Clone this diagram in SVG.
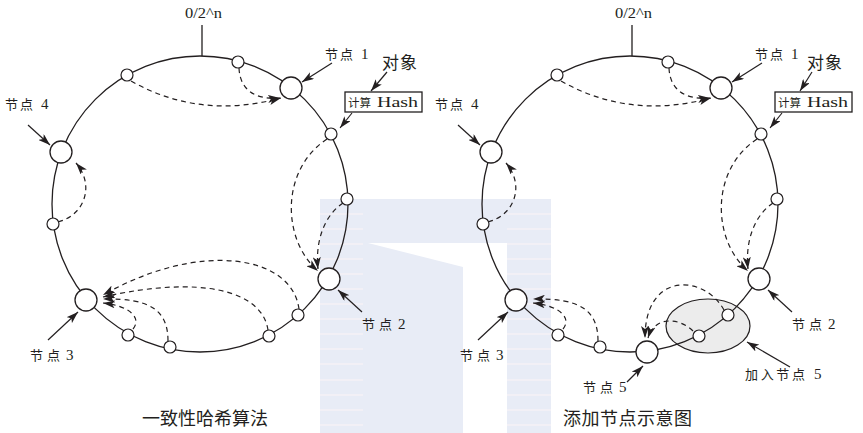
<svg xmlns="http://www.w3.org/2000/svg" width="863" height="433" viewBox="0 0 863 433">
<style>
.ring{fill:none;stroke:#231f20;stroke-width:1.3}
.tick{stroke:#231f20;stroke-width:1.3}
.sn{fill:#fff;stroke:#231f20;stroke-width:1.2}
.bn{fill:#fff;stroke:#231f20;stroke-width:1.3}
.dash{fill:none;stroke:#231f20;stroke-width:1.2;stroke-dasharray:5 4;marker-end:url(#ah)}
.ann{fill:none;stroke:#231f20;stroke-width:1.2;marker-end:url(#ah)}
.t{font-family:"Noto Sans CJK SC","Liberation Serif",sans-serif;font-size:13px;fill:#231f20}
.l{font-family:"Liberation Serif",serif;font-size:15px;fill:#231f20}
.sm{font-size:11.5px}
.big{font-size:17px}
.cap{font-size:18px}
.box{fill:#fff;stroke:#231f20;stroke-width:1.3}
.grp{fill:#ececec;stroke:#231f20;stroke-width:1.2}
.stripe{stroke:#f5f1f6;stroke-width:1.5}
</style>
<defs>
<marker id="ah" viewBox="0 0 12 8" refX="12" refY="4" markerWidth="12" markerHeight="8" markerUnits="userSpaceOnUse" orient="auto">
<path d="M0,0 L12,4 L0,8 L3,4 z" fill="#231f20"/>
</marker>
</defs>
<rect width="863" height="433" fill="#fff"/>
<g id="watermark">
<rect x="320" y="199" width="231" height="234" fill="#e8ecf6"/>
<polygon points="368,243 507,243 507,433 463,433 463,267" fill="#fff"/>
<path class="stripe" d="M320,214H363M320,229H363M320,244H363M320,259H363M320,274H363M320,289H363M320,304H363M320,319H363M320,334H363M320,349H363M320,364H363M320,380H363M320,395H363M320,410H363M320,425H363 M507,214H551M507,229H551M507,244H551M507,259H551M507,274H551M507,289H551M507,304H551M507,319H551M507,334H551M507,349H551M507,364H551M507,380H551M507,395H551M507,410H551M507,425H551"/>
</g>

<g id="group-node5-area"><ellipse class="grp" cx="708" cy="326" rx="42" ry="27"/></g>

<g id="rings">
<circle class="ring" cx="200" cy="204" r="148"/>
<line class="tick" x1="202" y1="25" x2="202" y2="56"/>
<circle class="ring" cx="630" cy="204" r="148"/>
<line class="tick" x1="632" y1="25" x2="632" y2="56"/>
</g>

<g id="connectors">
<path class="dash" d="M131,81 Q200,120 281,98"/>
<path class="dash" d="M239,68 C240,90 255,100 280,98"/>
<path class="dash" d="M327,139 C280,170 282,240 318,271"/>
<path class="dash" d="M343,203 C325,215 315,240 318,269"/>
<path class="dash" d="M58,222 C85,215 95,185 76,163"/>
<path class="dash" d="M133,329 C142,318 130,306 103,303"/>
<path class="dash" d="M168,341 C168,310 150,298 103,299"/>
<path class="dash" d="M268,330 C262,290 200,275 103,297"/>
<path class="dash" d="M299,309 C292,255 200,240 103,295"/>
<path class="dash" d="M561,81 Q630,120 711,98"/>
<path class="dash" d="M669,68 C670,90 685,100 710,98"/>
<path class="dash" d="M757,139 C710,170 712,240 748,271"/>
<path class="dash" d="M773,203 C755,215 745,240 748,269"/>
<path class="dash" d="M488,222 C515,215 525,185 506,163"/>
<path class="dash" d="M563,329 C572,318 560,306 533,303"/>
<path class="dash" d="M598,341 C598,310 580,298 533,299"/>
<path class="dash" d="M724,310 C705,275 645,270 645,338"/>
<path class="dash" d="M693,331 C680,318 655,315 648,338"/>
<path class="ann" d="M332,63 L302,82"/>
<path class="ann" d="M387,72 L371,91"/>
<path class="ann" d="M352,113 L340,128"/>
<path class="ann" d="M28,125 L50,145"/>
<path class="ann" d="M362,312 L338,290"/>
<path class="ann" d="M48,340 L78,312"/>
<path class="ann" d="M762,63 L732,82"/>
<path class="ann" d="M812,72 L800,91"/>
<path class="ann" d="M782,113 L770,128"/>
<path class="ann" d="M458,125 L480,145"/>
<path class="ann" d="M792,312 L768,290"/>
<path class="ann" d="M478,340 L508,312"/>
<path class="ann" d="M627,382 L643,366"/>
<path class="ann" d="M790,367 L747,342"/>
</g>

<g id="left-nodes">
<g id="L-s1"><circle class="sn" cx="127" cy="75" r="6"/></g>
<g id="L-s2"><circle class="sn" cx="238" cy="62" r="6"/></g>
<g id="L-s3"><circle class="sn" cx="331" cy="134" r="6"/></g>
<g id="L-s4"><circle class="sn" cx="347" cy="199" r="6"/></g>
<g id="L-s5"><circle class="sn" cx="53" cy="224" r="6"/></g>
<g id="L-s6"><circle class="sn" cx="128" cy="335" r="6"/></g>
<g id="L-s7"><circle class="sn" cx="170" cy="347" r="6"/></g>
<g id="L-s8"><circle class="sn" cx="269" cy="336" r="6"/></g>
<g id="L-s9"><circle class="sn" cx="298" cy="315" r="6"/></g>
<g id="L-node1"><circle class="bn" cx="291" cy="88" r="11"/><text class="t" x="325" y="59" textLength="28">节点</text><text class="l" x="361" y="59">1</text></g>
<g id="L-node4"><circle class="bn" cx="61" cy="152" r="11"/><text class="t" x="5" y="109" textLength="28">节点</text><text class="l" x="41" y="109">4</text></g>
<g id="L-node3"><circle class="bn" cx="86" cy="300" r="11"/><text class="t" x="30" y="360" textLength="30">节点</text><text class="l" x="66" y="360">3</text></g>
<g id="L-node2"><circle class="bn" cx="329" cy="279" r="11"/><text class="t" x="362" y="329" textLength="30">节点</text><text class="l" x="398" y="329">2</text></g>
<g id="L-hash"><rect class="box" x="345" y="92" width="77" height="20"/><text class="t sm" x="348" y="107">计算</text><text class="l" x="377" y="107" textLength="41" lengthAdjust="spacingAndGlyphs">Hash</text></g>
<g id="L-object"><text class="t big" x="382" y="69" textLength="35">对象</text></g>
<g id="L-zero"><text class="l" x="185" y="18" textLength="37" lengthAdjust="spacingAndGlyphs">0/2^n</text></g>
<text class="t cap" x="142" y="425" textLength="126">一致性哈希算法</text>
</g>

<g id="right-nodes">
<g id="R-s1"><circle class="sn" cx="557" cy="75" r="6"/></g>
<g id="R-s2"><circle class="sn" cx="668" cy="62" r="6"/></g>
<g id="R-s3"><circle class="sn" cx="761" cy="134" r="6"/></g>
<g id="R-s4"><circle class="sn" cx="777" cy="199" r="6"/></g>
<g id="R-s5"><circle class="sn" cx="483" cy="224" r="6"/></g>
<g id="R-s6"><circle class="sn" cx="558" cy="335" r="6"/></g>
<g id="R-s7"><circle class="sn" cx="600" cy="347" r="6"/></g>
<g id="R-s8"><circle class="sn" cx="699" cy="336" r="6"/></g>
<g id="R-s9"><circle class="sn" cx="728" cy="315" r="6"/></g>
<g id="R-node1"><circle class="bn" cx="721" cy="88" r="11"/><text class="t" x="755" y="59" textLength="28">节点</text><text class="l" x="791" y="59">1</text></g>
<g id="R-node4"><circle class="bn" cx="491" cy="152" r="11"/><text class="t" x="435" y="109" textLength="28">节点</text><text class="l" x="471" y="109">4</text></g>
<g id="R-node3"><circle class="bn" cx="516" cy="300" r="11"/><text class="t" x="460" y="360" textLength="30">节点</text><text class="l" x="496" y="360">3</text></g>
<g id="R-node2"><circle class="bn" cx="759" cy="279" r="11"/><text class="t" x="792" y="329" textLength="30">节点</text><text class="l" x="828" y="329">2</text></g>
<g id="R-node5"><circle class="bn" cx="647" cy="352" r="11"/><text class="t" x="583" y="392" textLength="30">节点</text><text class="l" x="619" y="392">5</text></g>
<g id="R-add5"><text class="t" x="745" y="379" textLength="60">加入节点</text><text class="l" x="814" y="379">5</text></g>
<g id="R-hash"><rect class="box" x="775" y="92" width="77" height="20"/><text class="t sm" x="778" y="107">计算</text><text class="l" x="807" y="107" textLength="41" lengthAdjust="spacingAndGlyphs">Hash</text></g>
<g id="R-object"><text class="t big" x="807" y="69" textLength="35">对象</text></g>
<g id="R-zero"><text class="l" x="615" y="18" textLength="37" lengthAdjust="spacingAndGlyphs">0/2^n</text></g>
<text class="t cap" x="563" y="425" textLength="129">添加节点示意图</text>
</g>
</svg>
